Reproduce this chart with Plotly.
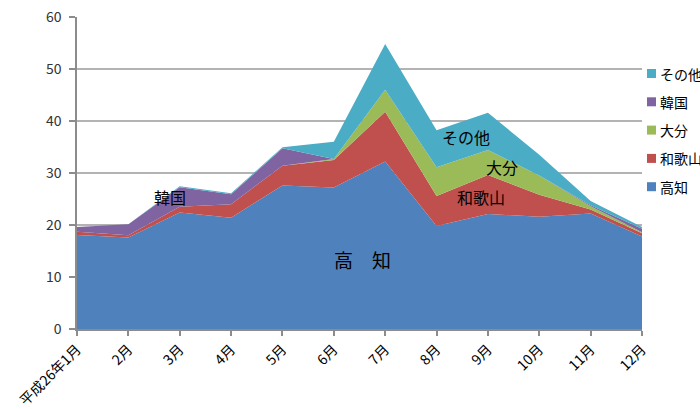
import plotly.graph_objects as go

months = ["平成26年1月", "2月", "3月", "4月", "5月", "6月", "7月", "8月", "9月", "10月", "11月", "12月"]
kochi = [18.1, 17.6, 22.4, 21.4, 27.6, 27.2, 32.2, 19.8, 22.1, 21.6, 22.2, 17.8]
wakayama = [0.6, 0.45, 1.1, 2.6, 3.8, 5.3, 9.6, 5.8, 7.5, 4.2, 0.8, 0.6]
oita = [0.0, 0.0, 0.0, 0.0, 0.0, 0.2, 4.2, 5.5, 4.8, 3.7, 0.6, 0.2]
korea = [0.9, 2.1, 3.75, 1.9, 3.35, 0.0, 0.0, 0.0, 0.0, 0.0, 0.2, 0.7]
other = [0.0, 0.0, 0.2, 0.2, 0.2, 3.3, 8.8, 7.1, 7.2, 4.0, 0.8, 0.3]

series_names = ["高知", "和歌山", "大分", "韓国", "その他"]
series_vals = [kochi, wakayama, oita, korea, other]
colors = ["#4F81BD", "#C0504D", "#9BBB59", "#8064A2", "#4BACC6"]

FONT = "Noto Sans CJK JP"
xs = list(range(len(months)))

fig = go.Figure()
for name, vals, col in zip(series_names, series_vals, colors):
    fig.add_trace(go.Scatter(
        x=xs, y=vals, name=name, mode="lines", stackgroup="one",
        line=dict(width=0, color=col), fillcolor=col, showlegend=False,
        hoverinfo="x+y+name",
    ))

# in-chart labels
labels = [
    ("高　知", 5.55, 13.3, 19),
    ("韓国", 1.81, 25.4, 16),
    ("その他", 7.57, 36.9, 16),
    ("大分", 8.27, 31.2, 16),
    ("和歌山", 7.87, 25.3, 16),
]
for txt, lx, ly, fs in labels:
    fig.add_annotation(x=lx, y=ly, text=txt, showarrow=False,
                       font=dict(family=FONT, size=fs, color="#000000"))

# custom legend (reversed order)
leg_y0 = 73.5
leg_step = 28.3
plot_top, plot_h = 17, 312
for i, (name, col) in enumerate(reversed(list(zip(series_names, colors)))):
    ypix = leg_y0 + i * leg_step
    yp = 1 - (ypix - plot_top) / plot_h
    fig.add_shape(type="rect", xref="paper", yref="paper",
                  x0=(647 - 77) / 565, x1=(656 - 77) / 565,
                  y0=yp - 4.5 / plot_h, y1=yp + 4.5 / plot_h,
                  fillcolor=col, line=dict(width=0))
    fig.add_annotation(xref="paper", yref="paper", x=(658 - 77) / 565, y=yp,
                       xanchor="left", yanchor="middle", text=name, showarrow=False,
                       font=dict(family=FONT, size=14, color="#000000"))

fig.update_layout(
    width=700, height=409,
    margin=dict(l=77, r=58, t=17, b=80),
    paper_bgcolor="white", plot_bgcolor="white",
    font=dict(family=FONT, size=13, color="#404040"),
    showlegend=False,
    xaxis=dict(
        range=[0, 11], tickmode="array", tickvals=xs, ticktext=months,
        tickangle=-45, showgrid=False, zeroline=False, automargin=False,
        showline=True, linecolor="#8c8c8c", linewidth=1.5,
        ticks="outside", ticklen=5, tickcolor="#8c8c8c", tickwidth=1.5,
        tickfont=dict(family=FONT, size=14, color="#000000"),
    ),
    yaxis=dict(
        range=[0, 60], dtick=10, showgrid=True, gridcolor="#b3b3b3", gridwidth=1.5,
        zeroline=False, showline=True, linecolor="#8c8c8c", linewidth=1.5, automargin=False,
        ticks="outside", ticklen=6, tickcolor="#8c8c8c", tickwidth=1.5,
        ticklabelstandoff=5,
        tickfont=dict(family=FONT, size=14, color="#333333"),
    ),
)

fig.write_html("out.html")
